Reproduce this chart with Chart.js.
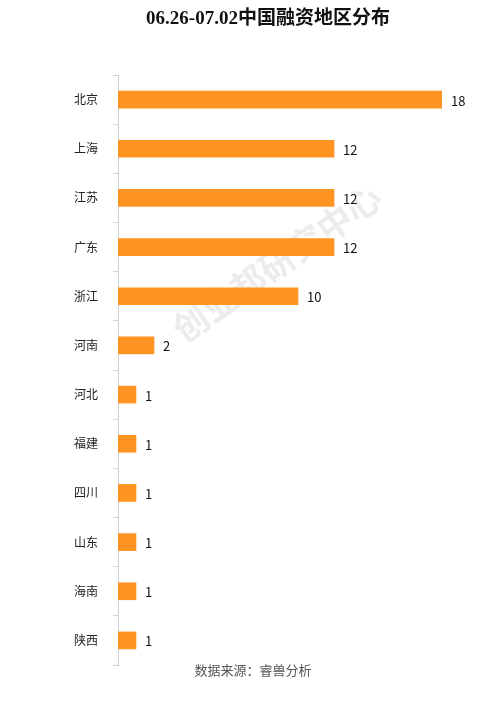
<!DOCTYPE html>
<html><head><meta charset="utf-8">
<script src="https://cdn.jsdelivr.net/npm/chart.js@4/dist/chart.umd.min.js"></script>
<style>html,body{margin:0;padding:0;background:#fff}#wrap{width:494px;height:704px;position:relative}</style>
</head><body><div id="wrap"><canvas id="c" width="494" height="704"></canvas></div>
<script>
const categories = ['北京','上海','江苏','广东','浙江','河南','河北','福建','四川','山东','海南','陕西'];
const values = [18,12,12,12,10,2,1,1,1,1,1,1];
const titleText = '06.26-07.02中国融资地区分布';
const sourceText = '数据来源：睿兽分析';
const watermarkText = '创业邦研究中心';

const extras = {
  id:'extras',
  beforeDatasetsDraw(chart){
    const ctx = chart.ctx;
    ctx.save();
    ctx.translate(277,263);
    ctx.rotate(-35*Math.PI/180);
    ctx.font = 'bold 35px "Noto Sans CJK SC"';
    ctx.fillStyle = 'rgba(200,200,200,0.35)';
    ctx.textAlign='center'; ctx.textBaseline='middle';
    ctx.fillText(watermarkText,0,0);
    ctx.restore();
  },
  afterDatasetsDraw(chart){
    const ctx = chart.ctx;
    const meta = chart.getDatasetMeta(0);
    ctx.save();
    ctx.font = '13px "Noto Sans CJK SC"';
    ctx.fillStyle = '#111';
    ctx.textAlign='left'; ctx.textBaseline='middle';
    meta.data.forEach((b,i)=>{ ctx.fillText(String(values[i]), b.x+9, b.y+1); });
    ctx.font = 'bold 19px "Liberation Serif", "Noto Sans CJK SC"';
    ctx.fillStyle = '#111';
    ctx.textAlign='center';
    ctx.fillText(titleText, 268, 19);
    ctx.font = '13px "Noto Sans CJK SC"';
    ctx.fillStyle = '#555';
    ctx.fillText(sourceText, 253, 670);
    ctx.restore();
  }
};

new Chart(document.getElementById('c'),{
  type:'bar',
  data:{labels:categories,datasets:[{data:values,backgroundColor:'#ff9422',barThickness:17}]},
  options:{
    indexAxis:'y',responsive:false,animation:false,
    layout:{padding:{top:75,bottom:39,right:52,left:0}},
    plugins:{legend:{display:false},tooltip:{enabled:false},title:{display:false}},
    scales:{
      x:{display:false,min:0,max:18},
      y:{
        afterFit(s){s.width=118;},
        grid:{drawOnChartArea:false,tickLength:5,color:'#d0d0d0',offset:true},
        border:{color:'#d0d0d0',width:1},
        ticks:{color:'#222',padding:15,font:{size:12,family:'"Noto Sans CJK SC"'}}
      }
    }
  },
  plugins:[extras]
});
</script></body></html>
